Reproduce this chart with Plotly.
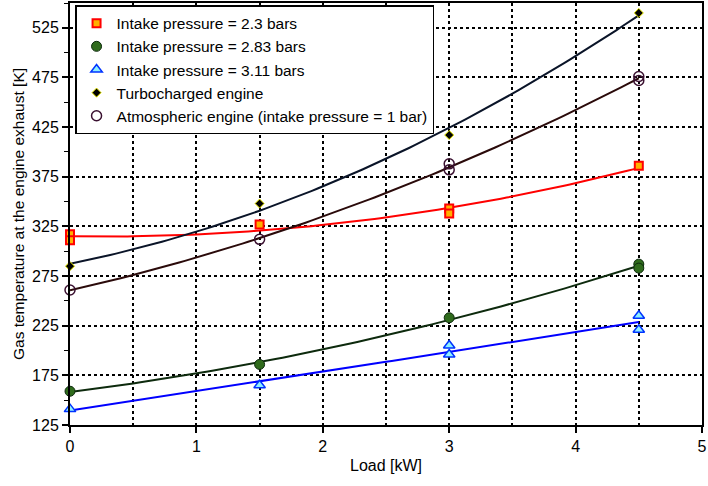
import numpy as np
import plotly.graph_objects as go

# Data
x_23 = [0, 0, 1.5, 3, 3, 4.5]
y_23 = [317, 311, 327, 343, 338, 386]
x_283 = [0, 1.5, 3, 4.5, 4.5]
y_283 = [159, 186, 233, 287, 283]
x_311 = [0, 1.5, 3, 3, 4.5, 4.5]
y_311 = [141, 165, 205, 196, 235, 221]
x_turbo = [0, 1.5, 3, 4.5]
y_turbo = [285, 348, 417, 540]
x_atm = [0, 1.5, 3, 3, 4.5, 4.5]
y_atm = [261, 312, 388, 382, 476, 472]

series = [
    ("Intake pressure = 2.3 bars", x_23, y_23, "#ff0000",
     dict(symbol="square", size=8, color="#ffb000", line=dict(color="#ff0000", width=2))),
    ("Intake pressure = 2.83 bars", x_283, y_283, "#0d2a0d",
     dict(symbol="circle", size=10, color="#2f6b1c", line=dict(color="#0d2a0d", width=1))),
    ("Intake pressure = 3.11 bars", x_311, y_311, "#0000ff",
     dict(symbol="triangle-up", size=10, color="#8ff0ff", line=dict(color="#0033ff", width=1.5))),
    ("Turbocharged engine", x_turbo, y_turbo, "#0a1428",
     dict(symbol="diamond", size=7, color="#000000", line=dict(color="#f0f000", width=1))),
    ("Atmospheric engine (intake pressure = 1 bar)", x_atm, y_atm, "#2a0a0a",
     dict(symbol="circle-open", size=10, color="#3a1030", line=dict(color="#3a1030", width=1.5))),
]

fig = go.Figure()
xs = np.linspace(0, 4.5, 100)
for name, x, y, lc, mk in series:
    c = np.polyfit(x, y, 2)
    fig.add_trace(go.Scatter(x=xs, y=np.polyval(c, xs), mode="lines",
                             line=dict(color=lc, width=2), showlegend=False,
                             hoverinfo="skip"))
for name, x, y, lc, mk in series:
    fig.add_trace(go.Scatter(x=x, y=y, mode="markers", name=name, marker=mk,
                             cliponaxis=False))

grid = dict(gridcolor="#000000", gridwidth=1.5, griddash="3px,3px")
fig.update_layout(
    width=708, height=486,
    margin=dict(l=70, r=5, t=1, b=61),
    paper_bgcolor="white", plot_bgcolor="white",
    font=dict(family="Arial, Liberation Sans, sans-serif", size=16, color="#000000"),
    legend=dict(x=0.008, y=0.995, xanchor="left", yanchor="top",
                bordercolor="#000000", borderwidth=1.5, bgcolor="white",
                font=dict(size=15.5), itemwidth=30, tracegroupgap=2),
    xaxis=dict(range=[0, 5], dtick=1, tick0=0, showgrid=True, **grid,
               showline=True, linecolor="#000000", linewidth=2, mirror=True,
               ticks="outside", ticklen=6, tickwidth=2, tickcolor="#000000",
               zeroline=False,
               minor=dict(dtick=0.5, showgrid=True, gridcolor="#000000",
                          gridwidth=1.5, griddash="3px,3px", ticks=""),
               title=dict(text="Load [kW]", font=dict(size=16), standoff=6)),
    yaxis=dict(range=[125, 550], dtick=50, tick0=125, showgrid=True, **grid,
               showline=True, linecolor="#000000", linewidth=2, mirror=True,
               ticks="outside", ticklen=6, tickwidth=2, tickcolor="#000000",
               zeroline=False,
               minor=dict(dtick=25, tick0=125, ticks="outside", ticklen=4,
                          tickwidth=1, tickcolor="#000000", showgrid=False),
               title=dict(text="Gas temperature at the engine exhaust [K]",
                          font=dict(size=15.5), standoff=4)),
)
fig.write_html("out.html")
